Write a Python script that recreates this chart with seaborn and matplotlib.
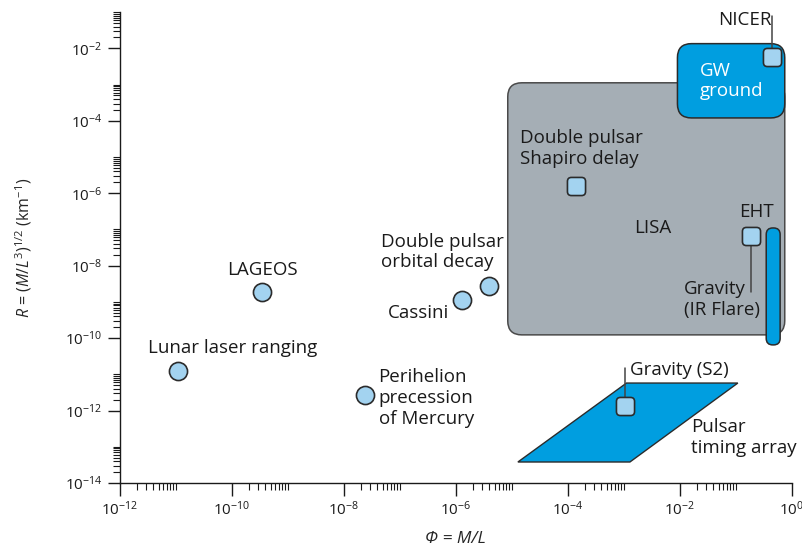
import matplotlib.pyplot as plt
import numpy as np
import pandas as pd
import seaborn as sns
from matplotlib.patches import FancyBboxPatch, Polygon, BoxStyle
from matplotlib.ticker import FixedLocator, NullFormatter

# tests drawn as circles: Phi = M/L, R = (M/L^3)^(1/2)
circle_names = ['Lunar laser ranging', 'LAGEOS', 'Perihelion', 'Cassini', 'Double pulsar orbital decay']
circle_phi = [1.1e-11, 3.5e-10, 2.4e-8, 1.3e-6, 3.9e-6]
circle_r = [1.2e-11, 1.9e-9, 2.7e-12, 1.1e-9, 2.7e-9]

# tests drawn as squares
square_names = ['Double pulsar Shapiro delay', 'EHT', 'NICER', 'Gravity (S2)']
square_phi = [1.4e-4, 0.19, 0.44, 1.05e-3]
square_r = [1.6e-6, 6.6e-8, 5.9e-3, 1.35e-12]

# regions (phi_min, phi_max, r_min, r_max)
lisa_box = [8.5e-6, 0.75, 1.23e-10, 1.12e-3]
gw_box = [9.1e-3, 0.75, 1.2e-4, 1.35e-2]
flare_box = [0.35, 0.62, 6.5e-11, 1.1e-7]
# pulsar timing array parallelogram corners
pta_phi = [1.29e-5, 1.29e-3, 0.109, 1.12e-3]
pta_r = [3.8e-14, 3.8e-14, 5.75e-12, 5.75e-12]

major_x = 10.0 ** np.arange(-12, 1, 2)
minor_x = [k * 10.0 ** d for d in range(-12, 0, 2) for k in range(2, 11)]
major_y = 10.0 ** np.arange(-14, -1, 2)
minor_y = [k * 10.0 ** d for d in range(-14, -1, 2) for k in range(2, 11)]

LIGHT = '#a3d3f0'
BLUE = '#009ee0'
GRAY = '#a5aeb5'
EDGE = '#2b2b2b'

sns.set_theme(style='ticks')
plt.rcParams['font.family'] = ['Open Sans', 'DejaVu Sans']
plt.rcParams['mathtext.fontset'] = 'custom'
plt.rcParams['mathtext.rm'] = 'Open Sans'
plt.rcParams['mathtext.it'] = 'Open Sans:italic'
plt.rcParams['mathtext.bf'] = 'Open Sans:bold'

fig, ax = plt.subplots(figsize=(8.03, 5.52), dpi=100)
fig.subplots_adjust(left=0.149, right=0.986, bottom=0.125, top=0.978)
ax.set(xscale='log', yscale='log')
ax.set_xlim(1e-12, 1)
ax.set_ylim(1e-14, 1e-1)


def to_axes(xs, ys):
    pts = ax.transData.transform(np.column_stack([xs, ys]))
    return ax.transAxes.inverted().transform(pts)


def rounded_box(box, radius_px, **kw):
    (a0, b0), (a1, b1) = to_axes([box[0], box[1]], [box[2], box[3]])
    bb = ax.get_window_extent()
    w, h = bb.width, bb.height
    patch = FancyBboxPatch((a0, b0), a1 - a0, b1 - b0,
                           boxstyle=f'round,pad=0,rounding_size={radius_px / w}',
                           mutation_aspect=w / h, transform=ax.transAxes, **kw)
    ax.add_patch(patch)


rounded_box(lisa_box, 14, facecolor=GRAY, edgecolor='#4a4a4a', linewidth=1.1, zorder=1)
rounded_box(gw_box, 14, facecolor=BLUE, edgecolor=EDGE, linewidth=1.1, zorder=2)
rounded_box(flare_box, 6.5, facecolor=BLUE, edgecolor=EDGE, linewidth=1.1, zorder=2)
ax.add_patch(Polygon(np.column_stack([pta_phi, pta_r]), closed=True, facecolor=BLUE,
                     edgecolor=EDGE, linewidth=1.0, zorder=1))

# leader lines
ax.plot([0.44, 0.44], [0.079, 5.9e-3], color='#444444', lw=1.1, zorder=3)
ax.plot([0.19, 0.19], [6.6e-8, 1.9e-9], color='#444444', lw=1.1, zorder=3)
ax.plot([1.05e-3, 1.05e-3], [1.35e-12, 1.5e-11], color='#444444', lw=1.1, zorder=3)

circles = pd.DataFrame({'phi': circle_phi, 'R': circle_r, 'name': circle_names})
squares = pd.DataFrame({'phi': square_phi, 'R': square_r, 'name': square_names})

rsq = BoxStyle.Round(pad=0, rounding_size=0.22)(-0.5, -0.5, 1, 1, 1)
sns.scatterplot(data=circles, x='phi', y='R', marker='o', s=170, color=LIGHT,
                edgecolor=EDGE, linewidth=1.2, ax=ax, zorder=5, legend=False)
sns.scatterplot(data=squares, x='phi', y='R', marker=rsq, s=170, color=LIGHT,
                edgecolor=EDGE, linewidth=1.2, ax=ax, zorder=5, legend=False)

fs = 13.5
txt = dict(fontsize=fs, color='#1a1a1a', linespacing=1.2, zorder=6)
ax.text(3.2e-12, 5.4e-11, 'Lunar laser ranging', ha='left', va='center', **txt)
ax.text(3.5e-10, 7.6e-9, 'LAGEOS', ha='center', va='center', **txt)
ax.text(4.2e-8, 2.2e-12, 'Perihelion\nprecession\nof Mercury', ha='left', va='center', **txt)
ax.text(7.5e-7, 5e-10, 'Cassini', ha='right', va='center', **txt)
ax.text(4.6e-8, 2.4e-8, 'Double pulsar\norbital decay', ha='left', va='center', **txt)
ax.text(1.4e-5, 1.7e-5, 'Double pulsar\nShapiro delay', ha='left', va='center', **txt)
ax.text(3.3e-3, 1.1e-7, 'LISA', ha='center', va='center', **txt)
ax.text(0.237, 3.1e-7, 'EHT', ha='center', va='center', **txt)
ax.text(0.0118, 1.15e-9, 'Gravity\n(IR Flare)', ha='left', va='center', **txt)
ax.text(0.023, 1.26e-3, 'GW\nground', ha='left', va='center', fontsize=fs,
        color='white', linespacing=1.2, zorder=6)
ax.text(0.445, 0.062, 'NICER', ha='right', va='center', **txt)
ax.text(1.28e-3, 1.3e-11, 'Gravity (S2)', ha='left', va='center', **txt)
ax.text(0.016, 1.85e-13, 'Pulsar\ntiming array', ha='left', va='center', **txt)

ax.xaxis.set_major_locator(FixedLocator(major_x))
ax.xaxis.set_minor_locator(FixedLocator(minor_x))
ax.yaxis.set_major_locator(FixedLocator(major_y))
ax.yaxis.set_minor_locator(FixedLocator(minor_y))
ax.xaxis.set_minor_formatter(NullFormatter())
ax.yaxis.set_minor_formatter(NullFormatter())
ax.tick_params(which='major', length=9, width=1, labelsize=11, colors='#1a1a1a')
ax.tick_params(which='minor', length=5, width=0.8, colors='#1a1a1a')

sns.despine(ax=ax)
for s in ['left', 'bottom']:
    ax.spines[s].set_color('#1a1a1a')
    ax.spines[s].set_linewidth(1)

ax.set_xlabel('\u03a6 = M/L', fontsize=12.5, fontstyle='italic', labelpad=9)
ax.set_ylabel(r'$R$ = ($M$/$L^3$)$^{1/2}$ (km$^{-1}$)', fontsize=11.5, labelpad=22)

plt.savefig('out.png', dpi=100)
